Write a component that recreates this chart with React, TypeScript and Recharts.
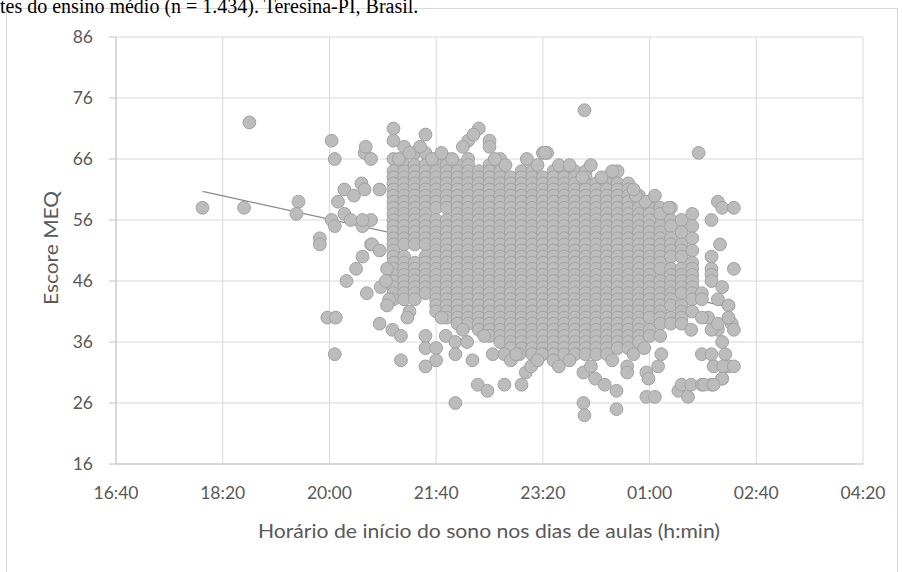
import { ScatterChart, Scatter, XAxis, YAxis, CartesianGrid } from "recharts";

// x = minutes after midnight of the evening day (1440 = 00:00 of the next day)
const xTicks = [1000, 1100, 1200, 1300, 1400, 1500, 1600, 1700];
const xTickLabels = ["16:40", "18:20", "20:00", "21:40", "23:20", "01:00", "02:40", "04:20"];
const yTicks = [16, 26, 36, 46, 56, 66, 76, 86];

// the dense part of the cloud, one column per 10 min
const columnTimes = [
  1260, 1270, 1280, 1290, 1300, 1310, 1320, 1330, 1340, 1350, 1360, 1370, 1380, 1390, 1400,
  1410, 1420, 1430, 1440, 1450, 1460, 1470, 1480, 1490, 1500, 1510, 1520, 1530, 1540,
];
const columnScores = [
  [71, 69, 66, 64, 63, 62, 61, 60, 59, 58, 57, 56, 55, 54, 53, 52, 51, 50, 49, 48, 47, 46, 45, 44, 43],
  [68, 65, 64, 63, 62, 61, 60, 59, 58, 57, 56, 55, 54, 53, 52, 50, 49, 48, 47, 46, 45, 44, 43],
  [67, 65, 64, 63, 62, 61, 60, 59, 58, 57, 56, 55, 54, 53, 52, 49, 48, 47, 46, 45, 44, 43],
  [70, 67, 65, 64, 63, 62, 61, 60, 59, 58, 57, 56, 55, 54, 53, 52, 50, 49, 48, 47, 46, 45, 44],
  [66, 64, 63, 62, 61, 60, 59, 58, 56, 55, 54, 53, 52, 51, 50, 49, 48, 47, 46, 45, 44, 43, 42, 41],
  [66, 65, 64, 63, 62, 61, 60, 59, 58, 56, 55, 54, 53, 52, 51, 50, 49, 48, 47, 46, 45, 44, 43, 42, 41, 40],
  [65, 64, 63, 62, 61, 60, 59, 58, 57, 56, 55, 54, 53, 52, 51, 50, 49, 48, 47, 46, 45, 44, 43, 42, 41, 40, 39],
  [69, 66, 65, 64, 63, 62, 61, 60, 59, 58, 57, 56, 55, 54, 53, 52, 51, 50, 49, 48, 47, 46, 45, 44, 43, 42, 41, 40, 39],
  [71, 64, 63, 62, 61, 60, 59, 58, 57, 56, 55, 54, 53, 52, 51, 50, 49, 48, 47, 46, 45, 44, 43, 42, 41, 40, 39, 38],
  [69, 68, 65, 64, 63, 62, 61, 60, 59, 58, 57, 56, 55, 54, 53, 52, 51, 50, 49, 48, 47, 46, 45, 44, 43, 42, 41, 40, 39, 38, 37],
  [66, 64, 63, 62, 61, 60, 59, 58, 57, 56, 55, 54, 53, 52, 51, 50, 49, 48, 47, 46, 45, 44, 43, 42, 41, 40, 39, 38, 37, 36],
  [63, 62, 61, 60, 59, 58, 57, 56, 55, 54, 53, 52, 51, 50, 49, 48, 47, 46, 45, 44, 43, 42, 41, 40, 39, 38, 37, 36, 35],
  [64, 63, 62, 61, 60, 59, 58, 57, 56, 55, 54, 53, 52, 51, 50, 49, 48, 47, 46, 45, 44, 43, 42, 41, 40, 39, 38, 37, 36, 35],
  [64, 63, 62, 61, 60, 59, 58, 57, 56, 55, 54, 53, 52, 51, 50, 49, 48, 47, 46, 45, 44, 43, 42, 41, 40, 39, 38, 37, 36, 35, 34],
  [67, 63, 62, 61, 60, 59, 58, 57, 56, 55, 54, 53, 52, 51, 50, 49, 48, 47, 46, 45, 44, 43, 42, 41, 40, 39, 38, 37, 36, 35, 34],
  [64, 63, 62, 61, 60, 59, 58, 57, 56, 55, 54, 53, 52, 51, 50, 49, 48, 47, 46, 45, 44, 43, 42, 41, 40, 39, 38, 37, 36, 35, 34, 33],
  [64, 63, 62, 61, 60, 59, 58, 57, 56, 55, 54, 53, 52, 51, 50, 49, 48, 47, 46, 45, 44, 43, 42, 41, 40, 39, 38, 37, 36, 35, 34],
  [64, 63, 62, 61, 60, 59, 58, 57, 56, 55, 54, 53, 52, 51, 50, 49, 48, 47, 46, 45, 44, 43, 42, 41, 40, 39, 38, 37, 36, 35, 34],
  [64, 63, 62, 61, 60, 59, 58, 57, 56, 55, 54, 53, 52, 51, 50, 49, 48, 47, 46, 45, 44, 43, 42, 41, 40, 39, 38, 37, 36, 35, 34],
  [62, 61, 60, 59, 58, 57, 56, 55, 54, 53, 52, 51, 50, 49, 48, 47, 46, 45, 44, 43, 42, 41, 40, 39, 38, 37, 36, 35, 34],
  [63, 62, 61, 60, 59, 58, 57, 56, 55, 54, 53, 52, 51, 50, 49, 48, 47, 46, 45, 44, 43, 42, 41, 40, 39, 38, 37, 36, 35, 34],
  [64, 62, 61, 60, 59, 58, 57, 56, 55, 54, 53, 52, 51, 50, 49, 48, 47, 46, 45, 44, 43, 42, 41, 40, 39, 38, 37, 36, 35],
  [62, 61, 60, 59, 58, 57, 56, 55, 54, 53, 52, 51, 50, 49, 48, 47, 46, 45, 44, 43, 42, 41, 40, 39, 38, 37, 36, 35],
  [60, 59, 58, 57, 56, 55, 54, 53, 52, 51, 50, 49, 48, 47, 46, 45, 44, 43, 42, 41, 40, 39, 38, 37, 36],
  [59, 58, 57, 56, 55, 54, 53, 52, 51, 50, 49, 48, 47, 46, 45, 44, 43, 42, 41, 40, 38, 37],
  [58, 57, 55, 54, 53, 52, 51, 50, 49, 48, 46, 45, 44, 43, 42, 41, 40, 39, 37],
  [58, 56, 55, 53, 52, 51, 50, 48, 47, 46, 45, 44, 43, 42, 40, 39],
  [56, 54, 52, 51, 50, 48, 47, 46, 45, 44, 42, 41, 40],
  [57, 55, 53, 51, 49, 48, 47, 46, 45, 44, 43, 41],
];

// the sparser points around the cloud, [time, score]
const scatteredPoints: [number, number][] = [
  [1081, 58], [1120, 58], [1125, 72], [1171, 59], [1169, 57], [1191, 53], [1191, 52],
  [1202, 69], [1205, 66], [1202, 56], [1205, 55], [1198, 40], [1206, 40], [1205, 34],
  [1216, 46], [1225, 48], [1231, 50], [1235, 44], [1239, 52], [1231, 55], [1239, 56],
  [1214, 61], [1208, 59], [1214, 57], [1220, 56], [1223, 60], [1230, 62], [1233, 67],
  [1239, 66], [1234, 68], [1247, 61], [1247, 39], [1233, 61], [1231, 56], [1240, 52],
  [1247, 51], [1248, 45], [1254, 48], [1253, 46], [1256, 43], [1254, 42], [1259, 38],
  [1267, 37], [1275, 41], [1273, 40], [1267, 33], [1290, 37], [1290, 35], [1300, 35],
  [1290, 32], [1300, 33], [1309, 37], [1318, 36], [1329, 36], [1318, 34], [1334, 33],
  [1339, 29], [1348, 28], [1364, 29], [1380, 29], [1318, 26], [1353, 34], [1364, 34],
  [1370, 33], [1378, 34], [1384, 31], [1389, 32], [1404, 67], [1439, 74], [1402, 67],
  [1438, 26], [1439, 24], [1469, 25], [1497, 27], [1505, 27], [1527, 28], [1536, 27],
  [1530, 29], [1539, 29], [1549, 29], [1558, 29], [1568, 30], [1438, 31], [1449, 30],
  [1458, 29], [1469, 28], [1479, 32], [1479, 31], [1497, 31], [1499, 30], [1508, 32],
  [1511, 34], [1415, 32], [1399, 34], [1549, 34], [1558, 34], [1571, 34], [1574, 32],
  [1564, 38], [1577, 39], [1555, 40], [1530, 39], [1539, 38], [1546, 67], [1564, 59],
  [1568, 58], [1579, 58], [1558, 56], [1566, 52], [1558, 50], [1558, 48], [1558, 47],
  [1558, 46], [1579, 48], [1549, 44], [1549, 43], [1568, 45], [1564, 43], [1574, 42],
  [1549, 40], [1558, 38], [1564, 39], [1574, 40], [1579, 38], [1568, 36], [1560, 32],
  [1569, 32], [1579, 32], [1568, 30], [1551, 29], [1560, 29], [1496, 59], [1518, 58],
  [1487, 60], [1437, 63],
  // ragged upper edge of the cloud
  [1265, 66], [1275, 67], [1285, 68], [1296, 66], [1305, 67], [1315, 66], [1325, 68],
  [1335, 70], [1355, 66], [1365, 65], [1385, 66], [1395, 65], [1415, 65], [1425, 65],
  [1445, 65], [1455, 63], [1465, 64], [1485, 61], [1505, 60],
  // ragged lower edge of the cloud
  [1305, 40], [1325, 38], [1345, 37], [1375, 34], [1395, 33], [1425, 33], [1445, 32],
  [1465, 33], [1485, 34], [1495, 35],
];

// linear trend line, drawn under the points
const trendTimes = [1081, 1580];
const trendScores = [60.7, 41.5];

const points = columnTimes
  .flatMap((t, i) => columnScores[i].map((s) => ({ x: t, y: s })))
  .concat(scatteredPoints.map(([t, s]) => ({ x: t, y: s })));
const trend = trendTimes.map((t, i) => ({ x: t, y: trendScores[i] }));

const FONT = "Lato, 'Open Sans', sans-serif";
const TEXT = "#595959";
const GRID = "#d9d9d9";

function Dot(props: any) {
  return <circle cx={props.cx} cy={props.cy} r={6.4} fill="#bcbcbc" stroke="#a2a2a2" strokeWidth={1} />;
}

export default function App() {
  const tick = { fill: TEXT, fontSize: 17.5, fontFamily: FONT };
  return (
    <div style={{ position: "absolute", left: 0, top: 0, width: 902, height: 572, background: "#fff", overflow: "hidden" }}>
      <div
        style={{
          position: "absolute",
          left: 6,
          top: 8,
          width: 890,
          height: 620,
          border: "1px solid #d9d9d9",
        }}
      />
      <ScatterChart width={902} height={572} margin={{ top: 37, right: 39, bottom: 78, left: 66 }}>
        <CartesianGrid stroke={GRID} strokeWidth={1} />
        <XAxis
          type="number"
          dataKey="x"
          domain={[1000, 1700]}
          ticks={xTicks}
          tickFormatter={(v) => xTickLabels[xTicks.indexOf(v)]}
          axisLine={{ stroke: "#c4c4c4" }}
          tickLine={false}
          tickSize={6}
          tickMargin={17}
          height={30}
          tick={tick}
          interval={0}
        />
        <YAxis
          type="number"
          dataKey="y"
          domain={[16, 86]}
          ticks={yTicks}
          axisLine={{ stroke: "#c4c4c4" }}
          tickLine={{ stroke: "#c4c4c4" }}
          tickSize={7}
          tickMargin={16}
          width={50}
          tick={tick}
          interval={0}
        />
        <Scatter
          data={trend}
          line={{ stroke: "#8a8a8a", strokeWidth: 1.3 }}
          shape={() => <g />}
          isAnimationActive={false}
        />
        <Scatter data={points} shape={Dot} isAnimationActive={false} />
      </ScatterChart>
      <svg width={902} height={572} style={{ position: "absolute", left: 0, top: 0, pointerEvents: "none" }}>
        <text x={0} y={13} fontFamily="'Liberation Serif', 'Times New Roman', serif" fontSize={20} fill="#000">
          tes do ensino médio (n = 1.434). Teresina-PI, Brasil.
        </text>
        <text
          x={489}
          y={538}
          textAnchor="middle"
          fontFamily={FONT}
          fontSize={18.5}
          fill={TEXT}
          textLength={462}
          lengthAdjust="spacingAndGlyphs"
        >
          Horário de início do sono nos dias de aulas (h:min)
        </text>
        <text
          transform="translate(58, 248) rotate(-90)"
          textAnchor="middle"
          fontFamily={FONT}
          fontSize={18.5}
          fill={TEXT}
          textLength={114}
          lengthAdjust="spacingAndGlyphs"
        >
          Escore MEQ
        </text>
      </svg>
    </div>
  );
}
